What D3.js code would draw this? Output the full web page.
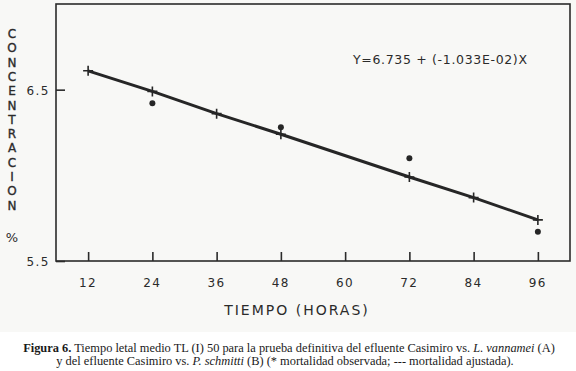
<!DOCTYPE html>
<html>
  <head>
    <title>Tiempo letal medio</title>
    <script type="text/javascript" src="https://d3js.org/d3.v7.min.js"></script>
    <style>
      body { margin: 0; background: #ffffff; }
      .lettering { font-family: "DejaVu Sans", sans-serif; fill: #2b2b2b; }
      .caption { font-family: "Liberation Serif", serif; font-size: 12.4px; fill: #1a1a1a; }
    </style>
  </head>
  <body>
    <svg width="576" height="371" class="chart"></svg>

    <script type="text/javascript">
      // hours on the x axis
      var hourTicks = [12, 24, 36, 48, 60, 72, 84, 96];
      var concTicks = [5.5, 6.5];

      // fitted line (crosses)
      var fitHours = [12, 24, 36, 48, 72, 84, 96];
      var fitConc  = [6.61, 6.49, 6.36, 6.24, 5.99, 5.87, 5.74];

      // observed mortality (dots)
      var obsHours = [24, 48, 72, 96];
      var obsConc  = [6.42, 6.28, 6.10, 5.67];

      var svg = d3.select('svg.chart');
      svg.append('rect').attr('width', 576).attr('height', 371).attr('fill', '#f8f8f6');
      svg.append('rect').attr('y', 332).attr('width', 576).attr('height', 39).attr('fill', '#ffffff');

      var x = d3.scaleLinear().domain([6, 102]).range([56, 570]);
      var y = d3.scaleLinear().domain([5.5, 7.0]).range([261, 4]);

      // frame
      svg.append('rect')
         .attr('x', x(6)).attr('y', y(7.0))
         .attr('width', x(102) - x(6)).attr('height', y(5.5) - y(7.0))
         .attr('fill', 'none').attr('stroke', '#2b2b2b').attr('stroke-width', 1.6);

      // x axis (ticks pointing inward)
      var xAxis = d3.axisTop(x).tickValues(hourTicks).tickSize(9).tickFormat('');
      svg.append('g').attr('transform', 'translate(0,' + y(5.5) + ')').call(xAxis)
         .call(function(g) { g.select('.domain').remove(); })
         .selectAll('line').attr('stroke', '#2b2b2b').attr('stroke-width', 1.6);

      svg.selectAll('text.xlab')
         .data(hourTicks)
         .enter()
         .append('text')
         .attr('class', 'xlab lettering')
         .attr('x', function(d) { return x(d); })
         .attr('y', 287)
         .attr('text-anchor', 'middle')
         .style('font-size', '12px')
         .style('letter-spacing', '1.5px')
         .text(function(d) { return d; });

      // y axis
      var yAxis = d3.axisRight(y).tickValues(concTicks).tickSize(9).tickFormat('');
      svg.append('g').attr('transform', 'translate(' + x(6) + ',0)').call(yAxis)
         .call(function(g) { g.select('.domain').remove(); })
         .selectAll('line').attr('stroke', '#2b2b2b').attr('stroke-width', 1.6);

      svg.selectAll('text.ylab')
         .data(concTicks)
         .enter()
         .append('text')
         .attr('class', 'ylab lettering')
         .attr('x', 50)
         .attr('y', function(d) { return y(d) + 5; })
         .attr('text-anchor', 'end')
         .style('font-size', '12px')
         .style('letter-spacing', '1.5px')
         .text(function(d) { return d.toFixed(1); });

      // vertical stacked y title
      var title = 'CONCENTRACION'.split('');
      svg.selectAll('text.ytitle')
         .data(title)
         .enter()
         .append('text')
         .attr('class', 'ytitle lettering')
         .attr('x', 12)
         .attr('y', function(d, i) { return 38 + i * 14.3; })
         .attr('text-anchor', 'middle')
         .attr('stroke', '#2b2b2b')
         .attr('stroke-width', 0.35)
         .style('font-size', '12px')
         .text(function(d) { return d; });
      svg.append('text').attr('class', 'lettering')
         .attr('x', 12).attr('y', 242).attr('text-anchor', 'middle')
         .style('font-size', '13px').text('%');

      svg.append('text').attr('class', 'lettering')
         .attr('x', 297).attr('y', 315).attr('text-anchor', 'middle')
         .style('font-size', '14px').style('letter-spacing', '2px')
         .text('TIEMPO  (HORAS)');

      svg.append('text').attr('class', 'lettering')
         .attr('x', 353).attr('y', 64)
         .style('font-size', '12.5px')
         .attr('textLength', 174)
         .text('Y=6.735 + (-1.033E-02)X');

      // fitted line
      var fit = fitHours.map(function(h, i) { return [h, fitConc[i]]; });
      var line = d3.line().x(function(d) { return x(d[0]); }).y(function(d) { return y(d[1]); });
      svg.append('path').datum(fit)
         .attr('d', line).attr('fill', 'none')
         .attr('stroke', '#262626').attr('stroke-width', 3);

      var crosses = svg.append('g').attr('stroke', '#262626').attr('stroke-width', 1.6);
      crosses.selectAll('path')
         .data(fit)
         .enter()
         .append('path')
         .attr('d', function(d) {
           var cx = x(d[0]), cy = y(d[1]);
           return 'M' + (cx - 5) + ',' + cy + 'H' + (cx + 5) + 'M' + cx + ',' + (cy - 5) + 'V' + (cy + 5);
         });

      // observed points
      svg.selectAll('circle.obs')
         .data(obsHours)
         .enter()
         .append('circle')
         .attr('class', 'obs')
         .attr('cx', function(d) { return x(d); })
         .attr('cy', function(d, i) { return y(obsConc[i]); })
         .attr('r', 3)
         .attr('fill', '#262626');

      // caption
      var cap1 = svg.append('text').attr('class', 'caption')
         .attr('x', 289).attr('y', 352).attr('text-anchor', 'middle');
      cap1.append('tspan').style('font-weight', 'bold').text('Figura 6.');
      cap1.append('tspan').text(' Tiempo letal medio TL (I) 50 para la prueba definitiva del efluente Casimiro vs. ');
      cap1.append('tspan').style('font-style', 'italic').text('L. vannamei');
      cap1.append('tspan').text(' (A)');

      var cap2 = svg.append('text').attr('class', 'caption')
         .attr('x', 285).attr('y', 365).attr('text-anchor', 'middle');
      cap2.append('tspan').text('y del efluente Casimiro vs. ');
      cap2.append('tspan').style('font-style', 'italic').text('P. schmitti');
      cap2.append('tspan').text(' (B) (* mortalidad observada; --- mortalidad ajustada).');
    </script>
  </body>
</html>
